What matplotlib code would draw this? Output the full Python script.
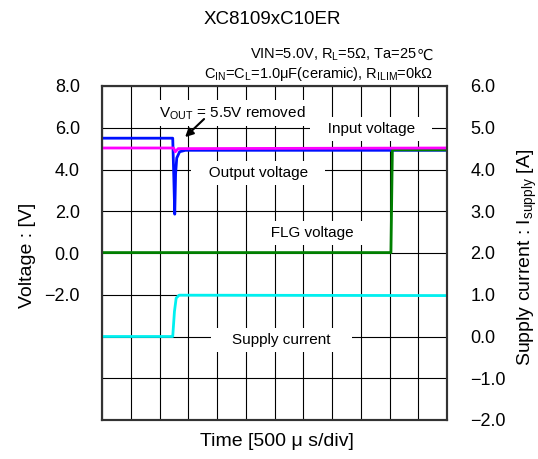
import matplotlib
matplotlib.use('Agg')
import matplotlib.pyplot as plt

plt.rcParams['font.family'] = ['Liberation Sans', 'DejaVu Sans']
plt.rcParams['axes.unicode_minus'] = True

# time in divisions (500 us/div)
t_out = [0, 2.46, 2.50, 2.53, 2.56, 2.60, 2.70, 2.90, 12]
v_out = [5.5, 5.5, 3.5, 1.86, 3.8, 4.55, 4.85, 4.92, 4.92]

t_in = [0, 2.49, 2.55, 2.65, 12]
v_in = [5.03, 5.03, 4.85, 5.0, 5.03]

t_flg = [0, 10.05, 10.10, 12]
v_flg = [0.02, 0.02, 4.94, 4.94]

t_cur = [0, 2.46, 2.52, 2.58, 2.68, 12]
i_cur = [0.0, 0.0, 0.6, 0.92, 0.99, 0.98]

left_ticks = [8, 6, 4, 2, 0, -2, -4, -6, -8]
left_labels = ['8.0', '6.0', '4.0', '2.0', '0.0', '\u22122.0', '', '', '']
right_ticks = [6, 5, 4, 3, 2, 1, 0, -1, -2]
right_labels = ['6.0', '5.0', '4.0', '3.0', '2.0', '1.0', '0.0', '\u22121.0', '\u22122.0']

fig = plt.figure(figsize=(5.38, 4.59), dpi=100)
ax = fig.add_axes([102/538, 1-420/459, 345/538, 334/459])
ax2 = ax.twinx()

ax.set_xlim(0, 12)
ax.set_ylim(-8, 8)
ax2.set_ylim(-2, 6)
ax.set_xticks(range(13))
ax.set_xticklabels([])
ax.set_yticks(left_ticks)
ax.set_yticklabels(left_labels, fontsize=13)
ax2.set_yticks(right_ticks)
ax2.set_yticklabels(right_labels, fontsize=13)
ax.tick_params(length=0, pad=16)
ax2.tick_params(length=0, pad=17)
ax.grid(True, color='black', lw=0.8)
ax.set_axisbelow(True)
for a in (ax, ax2):
    for s in a.spines.values():
        s.set_color('#333333')
        s.set_linewidth(1.5)

ax.plot(t_out, v_out, color='#0010ff', lw=2, zorder=3)
ax.plot(t_flg, v_flg, color='#008000', lw=2, zorder=4)
ax.plot(t_in, v_in, color='#ff00ff', lw=2, zorder=5)
ax2.plot(t_cur, i_cur, color='#00f0f0', lw=2)

box = dict(boxstyle='square,pad=0.3', facecolor='white', edgecolor='none')
ax.text(9.36, 5.94, '   Input voltage   ', ha='center', va='center', fontsize=11, bbox=box, zorder=2)
ax.text(5.44, 3.83, '   Output voltage   ', ha='center', va='center', fontsize=11, bbox=box, zorder=2)
ax.text(7.30, 0.96, '   FLG voltage   ', ha='center', va='center', fontsize=11, bbox=box, zorder=2)
ax.text(6.24, -4.17, '    Supply current    ', ha='center', va='center', fontsize=11, bbox=box, zorder=2)
ax.text(4.54, 6.71, r'$\mathregular{V_{OUT}}$ = 5.5V removed', ha='center', va='center',
        fontsize=11, bbox=box, zorder=2)
ax.annotate('', xy=(2.82, 5.46), xytext=(3.62, 6.51),
            arrowprops=dict(arrowstyle='-|>', color='black', lw=1.5, mutation_scale=12), zorder=6)

fig.text(0.507, 1-20/459, 'XC8109xC10ER', ha='center', va='center', fontsize=13.5)
# ℃ is not in Liberation Sans, draw it separately in DejaVu Sans
deg = fig.text(433/538, 1-55/459, '℃', ha='right', va='center', fontsize=10.5, family='DejaVu Sans')
ax.annotate(r'VIN=5.0V, R$\mathregular{_L}$=5Ω, Ta=25', xy=(0, 0.5), xycoords=deg,
            ha='right', va='center', fontsize=10.5, annotation_clip=False)
fig.text(433/538, 1-74/459, r'C$\mathregular{_{IN}}$=C$\mathregular{_L}$=1.0μF(ceramic), R$\mathregular{_{ILIM}}$=0kΩ',
         ha='right', va='center', fontsize=10.5)
fig.text(27/538, 1-255/459, 'Voltage : [V]', rotation=90, ha='center', va='center', fontsize=14)
fig.text(527/538, 1-257/459, r'Supply current : I$\mathregular{_{supply}}$ [A]', rotation=90,
         ha='center', va='center', fontsize=14)
fig.text(277/538, 1-442/459, 'Time [500 μ s/div]', ha='center', va='center', fontsize=14)

fig.savefig('out.png', dpi=100)
